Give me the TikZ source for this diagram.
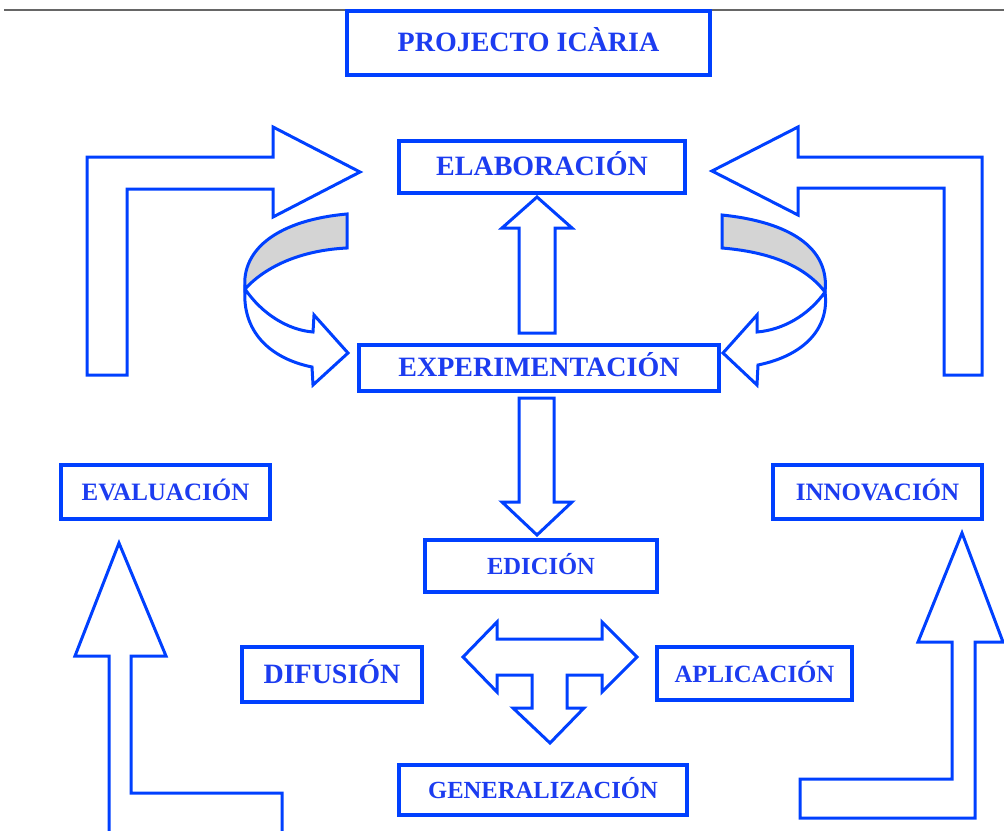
\documentclass[tikz,border=0pt]{standalone}
\usepackage{fontspec}
\setmainfont{Liberation Serif}
\definecolor{icblue}{RGB}{0,64,255}
\definecolor{ictext}{RGB}{28,60,240}
\definecolor{icgray}{RGB}{212,212,212}
\newcommand{\fsz}[1]{\fontsize{#1}{#1}\selectfont\bfseries}
\tikzset{
  caja/.style={draw=icblue, line width=3.2pt, inner sep=0pt, text=ictext,
    text height=17pt, text depth=0pt},
  flecha/.style={draw=icblue, line width=3pt, line join=miter, fill=white},
}

\begin{document}
\begin{tikzpicture}[x=1pt,y=-1pt]
  \useasboundingbox (0,0) rectangle (1004,830);
  \clip (0,0) rectangle (1004,830);
  \draw[gray!80!black, line width=2.4pt] (4,10) -- (1004,10);

  % cajas
  \node[caja, minimum width=363pt, minimum height=64pt, font=\fsz{28}] (proyecto) at (528.5,43) {PROJECTO ICÀRIA};
  \node[caja, minimum width=286pt, minimum height=52pt, font=\fsz{28}] (elab) at (542,167) {ELABORACIÓN};
  \node[caja, minimum width=360pt, minimum height=46pt, font=\fsz{28}] (exper) at (539,368) {EXPERIMENTACIÓN};
  \node[caja, minimum width=209pt, minimum height=54pt, font=\fsz{25}] (eval) at (165.5,492) {EVALUACIÓN};
  \node[caja, minimum width=209pt, minimum height=54pt, font=\fsz{25}] (innov) at (877.5,492) {INNOVACIÓN};
  \node[caja, minimum width=232pt, minimum height=52pt, font=\fsz{24.6}] (edic) at (541,566) {EDICIÓN};
  \node[caja, minimum width=180pt, minimum height=55pt, font=\fsz{28}] (difus) at (332,674.5) {DIFUSIÓN};
  \node[caja, minimum width=195pt, minimum height=53pt, font=\fsz{24.8}] (aplic) at (754.5,673.5) {APLICACIÓN};
  \node[caja, minimum width=288pt, minimum height=50pt, font=\fsz{24.6}] (gener) at (543,790) {GENERALIZACIÓN};

  % flechas en L
  \draw[flecha] (87,375) -- (87,157) -- (273,157) -- (273,127) -- (360,172) -- (273,217)
    -- (273,189) -- (127,189) -- (127,375) -- cycle;
  \draw[flecha] (982,375) -- (982,157) -- (798,157) -- (798,127) -- (712,171) -- (798,215)
    -- (798,188) -- (944,188) -- (944,375) -- cycle;
  \draw[flecha] (282,835) -- (282,793) -- (131,793) -- (131,656) -- (166,656) -- (119,543)
    -- (75,656) -- (109,656) -- (109,835);
  \draw[flecha] (800,779) -- (952,779) -- (952,642) -- (918,642) -- (962,533) -- (1003,642)
    -- (975,642) -- (975,818) -- (800,818) -- cycle;

  % flechas rectas
  \draw[flecha] (519,333) -- (519,228) -- (502,228) -- (537,197) -- (572,228) -- (555,228)
    -- (555,333) -- cycle;
  \draw[flecha] (519,398) -- (519,502) -- (502,502) -- (537,535) -- (572,502) -- (554,502)
    -- (554,398) -- cycle;
  \draw[flecha] (463,657) -- (497,622) -- (497,639) -- (602,639) -- (602,622) -- (637,657)
    -- (602,692) -- (602,675) -- (567,675) -- (567,708) -- (584,708) -- (550,743)
    -- (513,708) -- (532,708) -- (532,675) -- (497,675) -- (497,692) -- cycle;

  % flechas curvas
  \draw[flecha, fill=icgray] (347,214) .. controls (280,220) and (241,248) .. (245,289)
    .. controls (268,264) and (305,250) .. (347,248) -- cycle;
  \draw[flecha] (245,289) .. controls (262,314) and (288,330) .. (313,332) -- (314,315)
    -- (348,353) -- (313,385) -- (312,367) .. controls (268,358) and (242,330) .. (245,289) -- cycle;
  \draw[flecha, fill=icgray] (722,215) .. controls (790,222) and (830,248) .. (825,292)
    .. controls (805,266) and (770,252) .. (722,248) -- cycle;
  \draw[flecha] (825,292) .. controls (808,316) and (782,330) .. (757,332) -- (757,315)
    -- (723,353) -- (757,385) -- (758,365) .. controls (802,356) and (830,330) .. (825,292) -- cycle;
\end{tikzpicture}
\end{document}
